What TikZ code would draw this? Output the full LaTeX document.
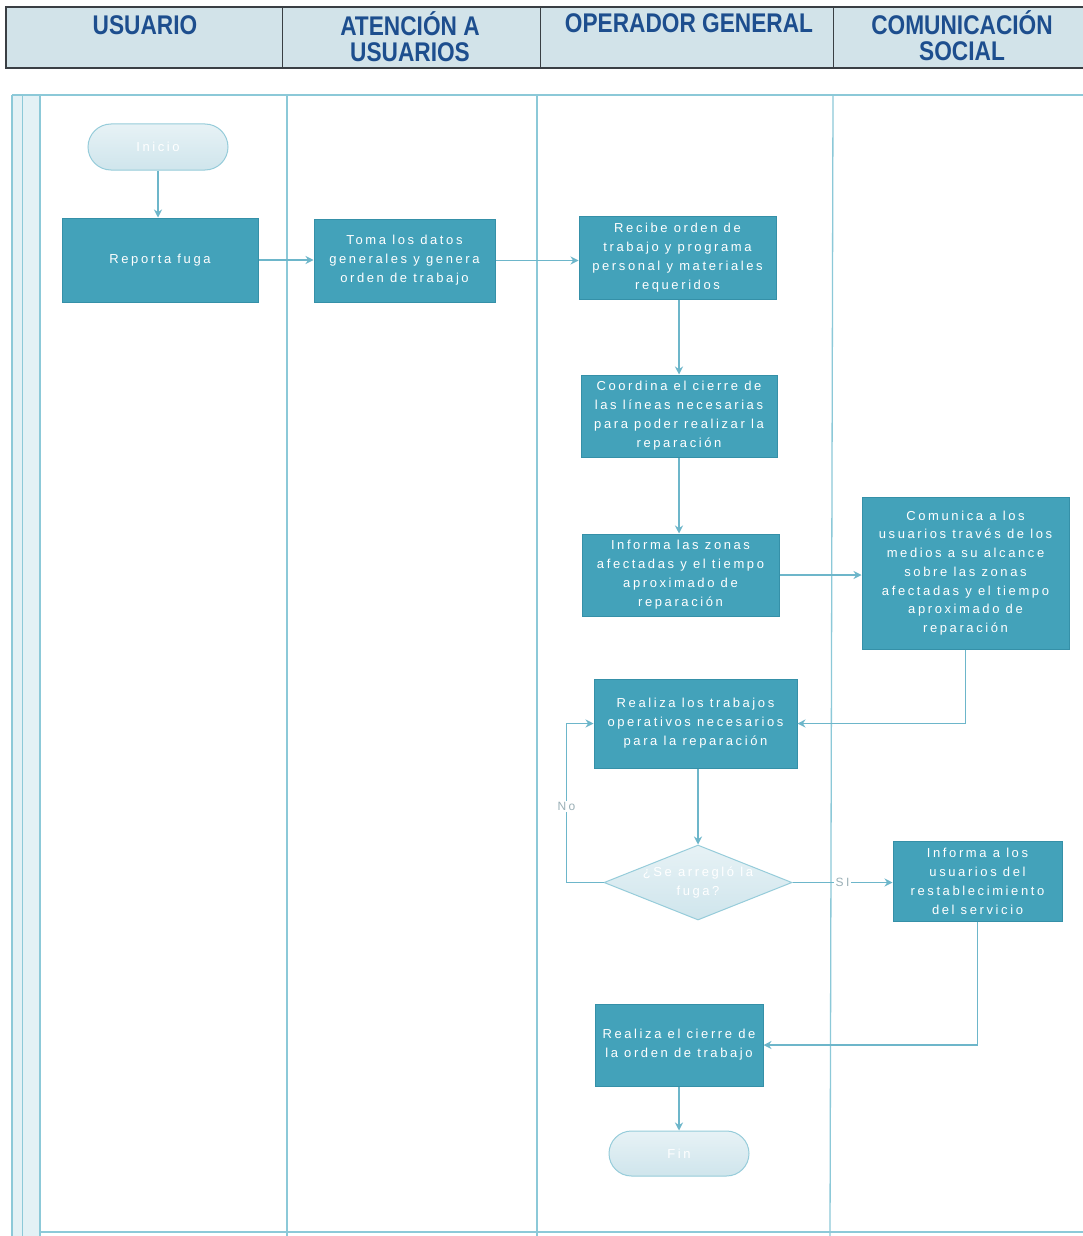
\documentclass[tikz,border=0pt]{standalone}
\usepackage{fontspec}
\usetikzlibrary{shapes.geometric,shapes.misc,arrows.meta}
\newfontfamily\hdrfont[FakeStretch=0.84]{Liberation Sans}
\newfontfamily\boxfont[LetterSpace=20]{Liberation Sans}
\definecolor{hdrfill}{HTML}{D2E3E9}
\definecolor{hdrtext}{HTML}{1D4E8E}
\definecolor{hdrline}{HTML}{3A3F44}
\definecolor{boxfill}{HTML}{43A2BA}
\definecolor{boxline}{HTML}{3590A8}
\definecolor{lane}{HTML}{8CC9D8}
\definecolor{conn}{HTML}{6DB6CA}
\definecolor{pale}{HTML}{CFE5EC}
\definecolor{paleline}{HTML}{96CCDA}
\definecolor{band}{HTML}{E3F1F5}
\definecolor{lbl}{HTML}{9AAFB6}
\tikzset{
  hdr/.style={font=\hdrfont\bfseries\fontsize{27}{26}\selectfont, text=hdrtext, align=center},
  proc/.style={rectangle, draw=boxline, line width=1pt, fill=boxfill, text=white,
    font=\boxfont\fontsize{13}{19}\selectfont, align=center, inner sep=0pt},
  term/.style={rounded rectangle, draw=paleline, line width=1pt, top color=pale!50, bottom color=pale,
    text=white, font=\boxfont\fontsize{13}{19}\selectfont, inner sep=0pt,
    minimum width=140pt, minimum height=46pt},
  dec/.style={diamond, draw=paleline, line width=1pt, top color=pale!50, bottom color=pale,
    inner sep=0pt, minimum width=188pt, minimum height=75pt, aspect=2.5},
  dectext/.style={text=white, font=\boxfont\fontsize{13}{19}\selectfont, align=center, inner sep=0pt},
  conn/.style={draw=conn, line width=1.1pt, -{Stealth[length=8pt,width=8pt]}},
  lanel/.style={draw=lane, line width=1.3pt},
  lblnode/.style={fill=white, text=lbl, font=\boxfont\fontsize{12}{14}\selectfont, inner sep=1.5pt}
}
\begin{document}
\begin{tikzpicture}[x=1pt,y=-1pt]
\useasboundingbox (0,0) rectangle (1082,1236);
\fill[white] (0,0) rectangle (1082,1236);
% header table
\draw[hdrline, line width=1.2pt, fill=hdrfill] (6,7) rectangle (1084,68);
\draw[hdrline, line width=1pt] (282,7) -- (282,68) (540,7) -- (540,68) (833,7) -- (833,68);
\node[hdr] (h1) at (145,25) {USUARIO};
\node[hdr] (h2) at (410,37) {ATENCIÓN A\\USUARIOS};
\node[hdr] (h3) at (689,23) {OPERADOR GENERAL};
\node[hdr] (h4) at (962,36) {COMUNICACIÓN\\SOCIAL};
% pool
\fill[band] (12,95) rectangle (40,1236);
\draw[lanel] (12,95) -- (12,1236);
\draw[lanel, line width=0.8pt] (22,95) -- (22,1236);
\draw[lanel] (40,95) -- (40,1236);
\draw[lanel, line width=2pt] (12,95) -- (1084,95);
\draw[lanel] (287,95) -- (287,1236);
\draw[lanel] (537,95) -- (537,1236);
\draw[lanel] (833,95) -- (830,1236);
\draw[lanel] (40,1232) -- (1084,1232);
% nodes
\node[term] (inicio) at (158,147) {Inicio};
\node[proc, minimum width=196pt, minimum height=84pt] (reporta) at (160,260) {Reporta fuga};
\node[proc, minimum width=181pt, minimum height=83pt] (toma) at (404.5,260.5) {Toma los datos\\generales y genera\\orden de trabajo};
\node[proc, minimum width=197pt, minimum height=83pt] (recibe) at (677.5,257.5) {Recibe orden de\\trabajo y programa\\personal y materiales\\requeridos};
\node[proc, minimum width=196pt, minimum height=82pt] (coordina) at (679,416) {Coordina el cierre de\\las líneas necesarias\\para poder realizar la\\reparación};
\node[proc, minimum width=197pt, minimum height=82pt] (informa) at (680.5,575) {Informa las zonas\\afectadas y el tiempo\\aproximado de\\reparación};
\node[proc, minimum width=207pt, minimum height=152pt, font=\boxfont\fontsize{13}{18.7}\selectfont] (comunica) at (965.5,573) {Comunica a los\\usuarios través de los\\medios a su alcance\\sobre las zonas\\afectadas y el tiempo\\aproximado de\\reparación};
\node[proc, minimum width=203pt, minimum height=89pt] (realiza) at (695.5,723.5) {Realiza los trabajos\\operativos necesarios\\para la reparación};
\node[dec] (dec) at (698,882.5) {};
\node[dectext] (dect) at (dec.center) {¿Se arregló la\\fuga?};
\node[proc, minimum width=169pt, minimum height=80pt] (restab) at (977.5,881) {Informa a los\\usuarios del\\restablecimiento\\del servicio};
\node[proc, minimum width=168pt, minimum height=82pt] (cierre) at (679,1045) {Realiza el cierre de\\la orden de trabajo};
\node[term, minimum height=45pt] (fin) at (679,1153.5) {Fin};
% connectors
\draw[conn] (inicio.south) -- (inicio.south |- reporta.north);
\draw[conn] (reporta.east) -- (reporta.east -| toma.west);
\draw[conn] (toma.east) -- (toma.east -| recibe.west);
\draw[conn] (coordina.north |- recibe.south) -- (coordina.north);
\draw[conn] (coordina.south) -- (coordina.south |- informa.north);
\draw[conn] (informa.east) -- (informa.east -| comunica.west);
\draw[conn] (comunica.south) |- (realiza.east);
\draw[conn] (dec.north |- realiza.south) -- (dec.north);
\draw[conn] (dec.east) -- node[lblnode, pos=0.5] {SI} (dec.east -| restab.west);
\draw[conn] (dec.west) -- ++(-37,0) |- node[lblnode, pos=0.24] {No} (realiza.west);
\draw[conn] (restab.south) |- (cierre.east);
\draw[conn] (cierre.south) -- (fin.north);
\end{tikzpicture}
\end{document}
